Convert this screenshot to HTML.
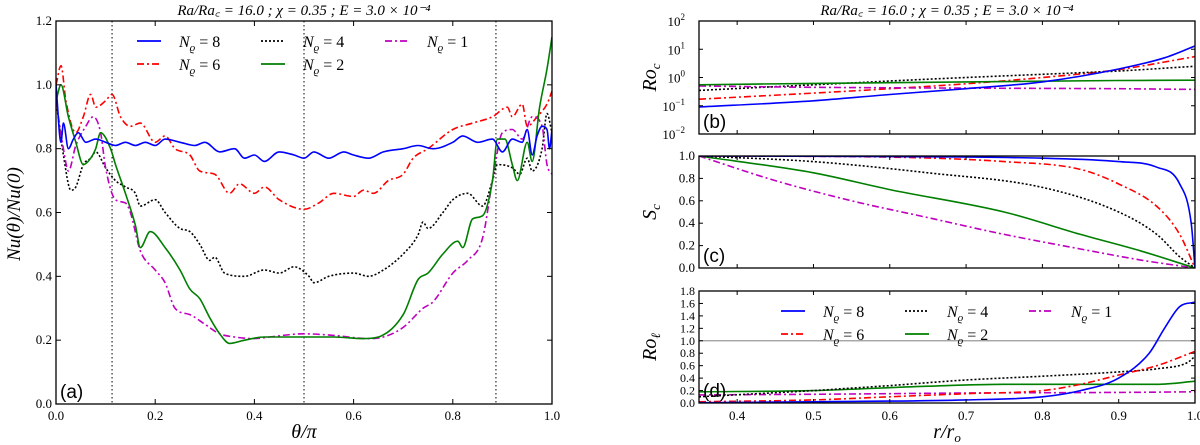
<!DOCTYPE html>
<html><head><meta charset="utf-8">
<style>
body{margin:0;background:#fff;}
svg{display:block;font-family:"Liberation Serif",serif;}
</style></head>
<body>
<svg id="chart" width="1200" height="445" viewBox="0 0 1200 445" xmlns="http://www.w3.org/2000/svg"></svg>
<script>
// ---- Data: panel (a) ----
const thetaBlue=[0,0.01,0.015,0.025,0.035,0.045,0.06,0.08,0.1,0.12,0.14,0.16,0.18,0.2,0.22,0.25,0.28,0.3,0.33,0.36,0.38,0.4,0.42,0.45,0.48,0.5,0.52,0.55,0.58,0.6,0.63,0.66,0.7,0.73,0.76,0.8,0.82,0.85,0.88,0.9,0.92,0.94,0.95,0.96,0.97,0.98,0.99,0.995,1.0];
const nuBlue=[1.0,0.82,0.88,0.8,0.83,0.85,0.82,0.83,0.82,0.81,0.82,0.81,0.82,0.81,0.83,0.82,0.81,0.82,0.79,0.8,0.77,0.78,0.76,0.79,0.78,0.77,0.79,0.77,0.79,0.78,0.77,0.79,0.8,0.81,0.8,0.82,0.84,0.82,0.83,0.79,0.83,0.82,0.86,0.78,0.84,0.87,0.86,0.8,0.86];
const thetaRed=[0,0.01,0.02,0.04,0.055,0.07,0.08,0.1,0.113,0.13,0.15,0.17,0.2,0.22,0.24,0.27,0.29,0.32,0.35,0.37,0.4,0.42,0.45,0.5,0.53,0.56,0.6,0.62,0.64,0.67,0.7,0.72,0.75,0.8,0.84,0.88,0.91,0.92,0.94,0.95,0.97,0.99,1.0];
const nuRed=[1.0,1.06,0.95,0.85,0.9,0.97,0.93,0.95,0.97,0.9,0.87,0.88,0.82,0.84,0.8,0.78,0.73,0.72,0.66,0.69,0.66,0.68,0.64,0.61,0.63,0.66,0.65,0.67,0.66,0.7,0.72,0.77,0.8,0.86,0.88,0.9,0.93,0.9,0.94,0.87,0.9,0.94,0.98];
const thetaBlack=[0,0.015,0.03,0.04,0.055,0.07,0.08,0.1,0.12,0.14,0.16,0.17,0.2,0.22,0.25,0.27,0.29,0.31,0.32,0.34,0.38,0.42,0.45,0.48,0.51,0.52,0.55,0.6,0.63,0.66,0.7,0.73,0.74,0.75,0.78,0.8,0.83,0.86,0.88,0.89,0.92,0.935,0.95,0.96,0.98,0.99,1.0];
const nuBlack=[0.95,0.78,0.67,0.68,0.75,0.77,0.79,0.74,0.7,0.68,0.66,0.62,0.64,0.6,0.55,0.54,0.5,0.45,0.46,0.41,0.4,0.42,0.41,0.43,0.4,0.38,0.4,0.41,0.4,0.42,0.47,0.53,0.57,0.55,0.6,0.64,0.66,0.62,0.7,0.75,0.74,0.72,0.77,0.73,0.8,0.91,0.85];
const thetaGreen=[0,0.01,0.025,0.04,0.055,0.07,0.08,0.09,0.11,0.12,0.14,0.16,0.17,0.19,0.22,0.25,0.27,0.29,0.31,0.33,0.35,0.38,0.42,0.5,0.56,0.62,0.65,0.7,0.73,0.75,0.78,0.81,0.82,0.84,0.86,0.88,0.89,0.905,0.92,0.93,0.95,0.96,0.975,0.99,1.0];
const nuGreen=[0.95,1.0,0.9,0.82,0.75,0.77,0.8,0.85,0.8,0.75,0.66,0.56,0.49,0.54,0.49,0.42,0.36,0.33,0.27,0.22,0.19,0.2,0.21,0.21,0.21,0.205,0.21,0.28,0.39,0.41,0.47,0.51,0.49,0.58,0.59,0.7,0.83,0.83,0.75,0.7,0.82,0.76,0.93,1.05,1.15];
const thetaMag=[0,0.015,0.025,0.04,0.06,0.075,0.09,0.1,0.12,0.14,0.15,0.17,0.2,0.22,0.24,0.27,0.3,0.33,0.36,0.4,0.43,0.5,0.56,0.63,0.66,0.7,0.74,0.76,0.8,0.83,0.86,0.88,0.9,0.92,0.94,0.96,0.98,0.99,1.0];
const nuMag=[0.95,0.8,0.73,0.81,0.87,0.9,0.85,0.74,0.64,0.63,0.6,0.48,0.42,0.38,0.3,0.28,0.25,0.22,0.21,0.205,0.21,0.22,0.215,0.205,0.21,0.24,0.3,0.32,0.41,0.45,0.52,0.7,0.85,0.86,0.83,0.9,0.87,0.75,0.72];
const dividers=[0.113,0.5,0.887];
const aXTicks=[0,0.2,0.4,0.6,0.8,1.0];
const aYTicks=[0,0.2,0.4,0.6,0.8,1.0,1.2];
// ---- Data: panel (b) Ro_c (log) ----
const rB=[0.35,0.5,0.6,0.7,0.8,0.9,0.96,1.0];
const rocBlue=[0.09,0.15,0.25,0.4,0.7,2,5,13];
const rR=[0.35,0.5,0.6,0.7,0.8,0.9,1.0];
const rocRed=[0.17,0.28,0.4,0.6,1.0,1.9,5.5];
const rocBlack=[0.35,0.55,0.75,1.0,1.3,1.7,2.5];
const rG=[0.35,0.5,0.7,0.9,1.0];
const rocGreen=[0.55,0.62,0.7,0.78,0.8];
const rocMag=[0.5,0.45,0.42,0.4,0.38];
const bYTicks=[-2,-1,0,1,2];
// ---- Data: panel (c) S_c ----
const rcBlue=[0.35,0.6,0.8,0.9,0.95,0.98,0.995,1.0];
const scBlue=[1,0.995,0.98,0.95,0.9,0.75,0.4,0];
const rcRed=[0.35,0.6,0.75,0.85,0.9,0.95,0.98,1.0];
const scRed=[1,0.99,0.95,0.88,0.75,0.55,0.3,0];
const rcBlack=[0.35,0.5,0.65,0.8,0.9,0.95,0.98,1.0];
const scBlack=[1,0.95,0.85,0.72,0.5,0.3,0.1,0];
const rcGreen=[0.35,0.5,0.6,0.75,0.85,0.93,1.0];
const scGreen=[1,0.85,0.7,0.5,0.3,0.15,0];
const rcMag=[0.35,0.45,0.55,0.65,0.75,0.85,0.93,1.0];
const scMag=[1,0.78,0.6,0.45,0.3,0.17,0.07,0];
const cYTicks=[0,0.2,0.4,0.6,0.8,1.0];
// ---- Data: panel (d) Ro_l ----
const rdBlue=[0.35,0.5,0.7,0.8,0.85,0.9,0.94,0.96,0.98,1.0];
const rolBlue=[0.005,0.02,0.05,0.1,0.2,0.4,0.8,1.2,1.55,1.62];
const rdRed=[0.35,0.5,0.6,0.7,0.8,0.85,0.9,0.95,1.0];
const rolRed=[0.02,0.05,0.1,0.15,0.2,0.3,0.45,0.6,0.83];
const rdBlack=[0.35,0.5,0.6,0.7,0.8,0.9,0.95,0.99,1.0];
const rolBlack=[0.1,0.2,0.28,0.37,0.43,0.5,0.55,0.65,0.75];
const rdGreen=[0.35,0.5,0.65,0.75,0.85,0.95,1.0];
const rolGreen=[0.18,0.2,0.27,0.3,0.3,0.3,0.35];
const rdMag=[0.35,0.5,0.7,0.9,1.0];
const rolMag=[0.13,0.14,0.16,0.17,0.18];
const dYTicks=[0,0.2,0.4,0.6,0.8,1.0,1.2,1.4,1.6,1.8];
const rXTicks=[0.4,0.5,0.6,0.7,0.8,0.9,1.0];

const NS="http://www.w3.org/2000/svg";
const svg=document.getElementById('chart');
function mk(tag,attrs,parent){const e=document.createElementNS(NS,tag);for(const k in attrs)e.setAttribute(k,attrs[k]);(parent||svg).appendChild(e);return e;}
const styles={
 blue:{stroke:'#0000ff',dash:''},
 red:{stroke:'#ff0000',dash:'7,3,2,3'},
 black:{stroke:'#000000',dash:'2,2'},
 green:{stroke:'#007f00',dash:''},
 mag:{stroke:'#bf00bf',dash:'7,3,2,3'}
};
// monotone cubic path (Fritsch-Carlson)
function smoothPath(P){
 const n=P.length;if(n<2)return '';
 const d=[],m=[];
 for(let i=0;i<n-1;i++){const dx=P[i+1][0]-P[i][0];d.push(dx?(P[i+1][1]-P[i][1])/dx:0);}
 m[0]=d[0];m[n-1]=d[n-2];
 for(let i=1;i<n-1;i++){m[i]=(d[i-1]*d[i]<=0)?0:(d[i-1]+d[i])/2;}
 for(let i=0;i<n-1;i++){if(d[i]===0){m[i]=0;m[i+1]=0;continue;}const a=m[i]/d[i],b=m[i+1]/d[i],s=a*a+b*b;if(s>9){const t=3/Math.sqrt(s);m[i]=t*a*d[i];m[i+1]=t*b*d[i];}}
 let s='M'+P[0][0].toFixed(1)+','+P[0][1].toFixed(1);
 for(let i=0;i<n-1;i++){const h=(P[i+1][0]-P[i][0])/3;
  s+=' C'+(P[i][0]+h).toFixed(1)+','+(P[i][1]+m[i]*h).toFixed(1)+' '+(P[i+1][0]-h).toFixed(1)+','+(P[i+1][1]-m[i+1]*h).toFixed(1)+' '+P[i+1][0].toFixed(1)+','+P[i+1][1].toFixed(1);}
 return s;
}
function line(g,xs,ys,fx,fy,st,name){
 const P=xs.map((x,i)=>[fx(x),fy(ys[i])]);
 const p=mk('path',{d:smoothPath(P),fill:'none',stroke:st.stroke,'stroke-width':1.6,'stroke-dasharray':st.dash,'stroke-linejoin':'round'},g);
 
 
}
function frame(x0,y0,x1,y1,name){
 const r=mk('rect',{x:x0,y:y0,width:x1-x0,height:y1-y0,fill:'none',stroke:'#000','stroke-width':1.3});
 
 
}
function text(x,y,s,opt){
 const t=mk('text',Object.assign({x:x,y:y,'font-size':13,fill:'#000'},opt||{}));t.textContent=s;return t;
}
function clip(id,x0,y0,x1,y1){const c=mk('clipPath',{id:id});mk('rect',{x:x0,y:y0,width:x1-x0,height:y1-y0},c);}
function legend(x,y,name){
 const g=mk('g',{});
 
 
 const items=[['blue','8',0,0],['black','4',1,0],['mag','1',2,0],['red','6',0,1],['green','2',1,1]];
 items.forEach(it=>{
  const lx=x+it[2]*124, ly=y+it[3]*23;
  const st=styles[it[0]];
  mk('line',{x1:lx,y1:ly,x2:lx+24,y2:ly,stroke:st.stroke,'stroke-width':1.8,'stroke-dasharray':st.dash},g);
  const t=mk('text',{x:lx+42,y:ly+6,'font-size':16,'font-style':'italic'},g);
  t.textContent='N';
  const s=mk('tspan',{dy:4,'font-size':11},t);s.textContent='ϱ';
  const s2=mk('tspan',{dy:-4,'font-size':16,'font-style':'normal'},t);s2.textContent=' = '+it[1];
  
  
 });
}

// ---------- Panel (a) ----------
const ax0=56,ax1=552,ay0=21,ay1=404;
const fxA=v=>ax0+(ax1-ax0)*v, fyA=v=>ay1-(ay1-ay0)*v/1.2;
clip('ca',ax0,ay0,ax1,ay1);
const gA=mk('g',{'clip-path':'url(#ca)'});


dividers.forEach(d=>mk('line',{x1:fxA(d),y1:ay0,x2:fxA(d),y2:ay1,stroke:'#000','stroke-width':1,'stroke-dasharray':'1.5,2.5'},gA));
line(gA,thetaRed,nuRed,fxA,fyA,styles.red,'series-n6');
line(gA,thetaBlack,nuBlack,fxA,fyA,styles.black,'series-n4');
line(gA,thetaMag,nuMag,fxA,fyA,styles.mag,'series-n1');
line(gA,thetaGreen,nuGreen,fxA,fyA,styles.green,'series-n2');
line(gA,thetaBlue,nuBlue,fxA,fyA,styles.blue,'series-n8');
frame(ax0,ay0,ax1,ay1,'panel-a-frame');
aXTicks.forEach(v=>{const x=fxA(v);mk('line',{x1:x,y1:ay1,x2:x,y2:ay1-5,stroke:'#000'});mk('line',{x1:x,y1:ay0,x2:x,y2:ay0+5,stroke:'#000'});text(x,420,v.toFixed(1),{'text-anchor':'middle'});});
aYTicks.forEach(v=>{const y=fyA(v);mk('line',{x1:ax0,y1:y,x2:ax0+5,y2:y,stroke:'#000'});mk('line',{x1:ax1,y1:y,x2:ax1-5,y2:y,stroke:'#000'});text(ax0-4,y+4,v.toFixed(1),{'text-anchor':'end'});});
legend(137,41,'legend-a');
text(60,398,'(a)',{'font-size':19,'font-family':'Liberation Sans, sans-serif'});
let t=text(304,438,'θ/π',{'font-size':20,'font-style':'italic','text-anchor':'middle'});

t=text(0,0,'Nu(θ)/Nu(0)',{'font-size':19,'font-style':'italic','text-anchor':'middle',transform:'translate(20,214) rotate(-90)'});

t=text(304,15,'Ra/Ra꜀ = 16.0 ; χ = 0.35 ; E = 3.0 × 10⁻⁴',{'font-size':15,'font-style':'italic','text-anchor':'middle'});


// ---------- Right panels ----------
const rx0=699,rx1=1195;
const fxR=v=>rx0+(rx1-rx0)*(v-0.35)/0.65;
function rightPanel(id,y0,y1,fy,series,ticks,tickLabel,label,ylab){
 clip('c'+id,rx0,y0,rx1,y1);
 const g=mk('g',{'clip-path':'url(#c'+id+')'});
 
 
 if(id==='d')mk('line',{x1:rx0,y1:fy(1),x2:rx1,y2:fy(1),stroke:'#999','stroke-width':1.2},g);
 series.forEach(s=>line(g,s[0],s[1],fxR,fy,styles[s[2]],'panel-'+id+'-'+s[3]));
 frame(rx0,y0,rx1,y1,'panel-'+id+'-frame');
 rXTicks.forEach(v=>{const x=fxR(v);mk('line',{x1:x,y1:y1,x2:x,y2:y1-4,stroke:'#000'});mk('line',{x1:x,y1:y0,x2:x,y2:y0+4,stroke:'#000'});});
 ticks.forEach(v=>{const y=fy(v);mk('line',{x1:rx0,y1:y,x2:rx0+4,y2:y,stroke:'#000'});mk('line',{x1:rx1,y1:y,x2:rx1-4,y2:y,stroke:'#000'});tickLabel(v,y);});
 text(703,y1-6,label,{'font-size':19,'font-family':'Liberation Sans, sans-serif'});
 const yl=text(0,0,ylab[0],{'font-size':20,'font-style':'italic','text-anchor':'middle',transform:'translate('+656+','+((y0+y1)/2)+') rotate(-90)'});
 const sub=mk('tspan',{dy:4,'font-size':13},yl);sub.textContent=ylab[1];
 
}
// (b)
const by0=21,by1=134;
const fyB=v=>by1-(by1-by0)*(Math.log10(v)+2)/4;
rightPanel('b',by0,by1,fyB,[[rR,rocRed,'red','n6'],[rR,rocBlack,'black','n4'],[rG,rocMag,'mag','n1'],[rG,rocGreen,'green','n2'],[rB,rocBlue,'blue','n8']],
 bYTicks.map(e=>Math.pow(10,e)),(v,y)=>{const e=Math.round(Math.log10(v));const tt=text(rx0-14,y+5,'10',{'text-anchor':'end'});const s=mk('tspan',{dy:-6,'font-size':9},tt);s.textContent=String(e).replace('-','−');},'(b)',['Ro','c']);
// (c)
const cy0=156,cy1=268;
const fyC=v=>cy1-(cy1-cy0)*v;
rightPanel('c',cy0,cy1,fyC,[[rcMag,scMag,'mag','n1'],[rcGreen,scGreen,'green','n2'],[rcBlack,scBlack,'black','n4'],[rcRed,scRed,'red','n6'],[rcBlue,scBlue,'blue','n8']],
 cYTicks,(v,y)=>text(rx0-4,y+4,v.toFixed(1),{'text-anchor':'end'}),'(c)',['S','c']);
// (d)
const dy0=291,dy1=403;
const fyD=v=>dy1-(dy1-dy0)*v/1.8;
rightPanel('d',dy0,dy1,fyD,[[rdMag,rolMag,'mag','n1'],[rdGreen,rolGreen,'green','n2'],[rdBlack,rolBlack,'black','n4'],[rdRed,rolRed,'red','n6'],[rdBlue,rolBlue,'blue','n8']],
 dYTicks,(v,y)=>text(rx0-4,y+4,v.toFixed(1),{'text-anchor':'end','font-size':12}),'(d)',['Ro','ℓ']);
rXTicks.forEach(v=>text(fxR(v),420,v.toFixed(1),{'text-anchor':'middle'}));
legend(781,311,'legend-d');
t=text(947,438,'r/r',{'font-size':20,'font-style':'italic','text-anchor':'middle'});
const ts=mk('tspan',{dy:4,'font-size':13},t);ts.textContent='o';

t=text(947,15,'Ra/Ra꜀ = 16.0 ; χ = 0.35 ; E = 3.0 × 10⁻⁴',{'font-size':15,'font-style':'italic','text-anchor':'middle'});

</script>
</body></html>
